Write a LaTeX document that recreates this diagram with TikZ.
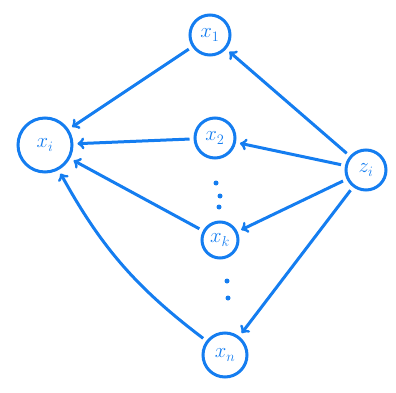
\documentclass[tikz,border=0pt]{standalone}
\usepackage{amsmath,xcolor}
\definecolor{penblue}{RGB}{20,125,240}

\begin{document}
\begin{tikzpicture}[x=1pt, y=-1pt, line width=3pt, draw=penblue, text=penblue,
    var/.style={draw=penblue, circle, line width=3pt, minimum size=40pt, inner sep=0pt, font=\fontsize{20}{22}\selectfont},
    link/.style={->, penblue, line width=3pt, shorten >=4pt, shorten <=4pt}]
        \useasboundingbox (0,0) rectangle (396,393);
        \node[var, minimum size=54pt] (xi) at (45,145) {$x_i$};
        \node[var] (x1) at (210,35) {$x_1$};
        \node[var] (x2) at (215,138) {$x_2$};
        \node[var, minimum size=36pt] (xk) at (220,240) {$x_k$};
        \node[var, minimum size=44pt] (xn) at (225,355) {$x_n$};
        \node[var] (zi) at (366,170) {$z_i$};

        % vertical dots between the middle nodes
        \foreach \px/\py in {216/183, 220/196, 219/207, 227/281, 228/298}
            \fill[penblue] (\px,\py) circle (2.5pt);

        \draw[link] (zi) -- (x1);
        \draw[link] (zi) -- (x2);
        \draw[link] (zi) -- (xk);
        \draw[link] (zi) -- (xn);

        \draw[link] (x1) -- (xi);
        \draw[link] (x2) -- (xi);
        \draw[link] (xk) -- (xi);
        \draw[link] (xn) to[bend left=12] (xi);
    \end{tikzpicture}
\end{document}
